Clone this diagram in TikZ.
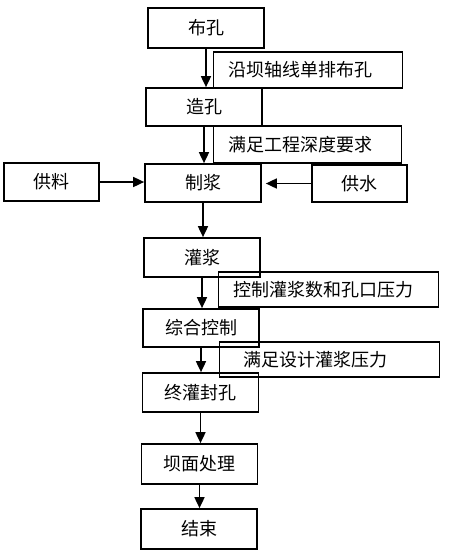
\documentclass[tikz,border=0pt]{standalone}
\usepackage{fontspec}
\newfontfamily\cjk{Noto Sans CJK SC}
\usetikzlibrary{arrows.meta}
\begin{document}
\begin{tikzpicture}[x=1pt,y=-1pt,
  mainbox/.style={draw, line width=1.7pt, minimum width=116pt, minimum height=38pt, inner sep=0pt, font=\cjk\fontsize{18}{21}\selectfont},
  sidebox/.style={mainbox, minimum width=95pt},
  notebox/.style={draw, line width=1.3pt, anchor=west, inner xsep=15pt, inner ysep=0pt, minimum height=36pt, align=left, font=\cjk\fontsize{18}{21}\selectfont},
  arr/.style={line width=1.7pt, -{Triangle[length=11pt,width=10pt]}}]
\useasboundingbox[fill=white] (0,0) rectangle (459,560);
\node[mainbox, minimum height=40pt] (bk) at (206,28) {布孔};
\node[mainbox] (zk) at (204,107) {造孔};
\node[mainbox] (zj) at (203,183) {制浆};
\node[sidebox] (gl) at (51.5,182) {供料};
\node[sidebox, minimum height=37pt] (gs) at (359.5,183.5) {供水};
\node[mainbox, minimum height=39pt] (gj) at (202,257.5) {灌浆};
\node[mainbox] (zh) at (201,328) {综合控制};
\node[mainbox, minimum height=39pt] (zg) at (200.5,392.5) {终灌封孔};
\node[mainbox, minimum height=40pt] (bm) at (199.5,464) {坝面处理};
\node[mainbox, minimum height=40pt] (js) at (199,529) {结束};
\node[notebox, text width=159pt] (n1) at (213,70) {沿坝轴线单排布孔};
\node[notebox, text width=158pt, minimum height=37pt] (n2) at (213,144.5) {满足工程深度要求};
\node[notebox, text width=190pt, minimum height=35pt] (n3) at (218,289.5) {控制灌浆数和孔口压力};
\node[notebox, text width=172pt, inner xsep=24pt, minimum height=35pt] (n4) at (219,359.5) {满足设计灌浆压力};
\draw[arr] (bk.south) -- (bk.south |- zk.north);
\draw[arr] (zk.south) -- (zk.south |- zj.north);
\draw[arr] (zj.south) -- (zj.south |- gj.north);
\draw[arr] (gj.south) -- (gj.south |- zh.north);
\draw[arr] (zh.south) -- (zh.south |- zg.north);
\draw[arr] (zg.south) -- (zg.south |- bm.north);
\draw[arr] (bm.south) -- (bm.south |- js.north);
\draw[arr] (gl.east) -- (zj.west |- gl.east);
\draw[arr, shorten >=4pt] (gs.west) -- (zj.east |- gs.west);
\end{tikzpicture}
\end{document}
